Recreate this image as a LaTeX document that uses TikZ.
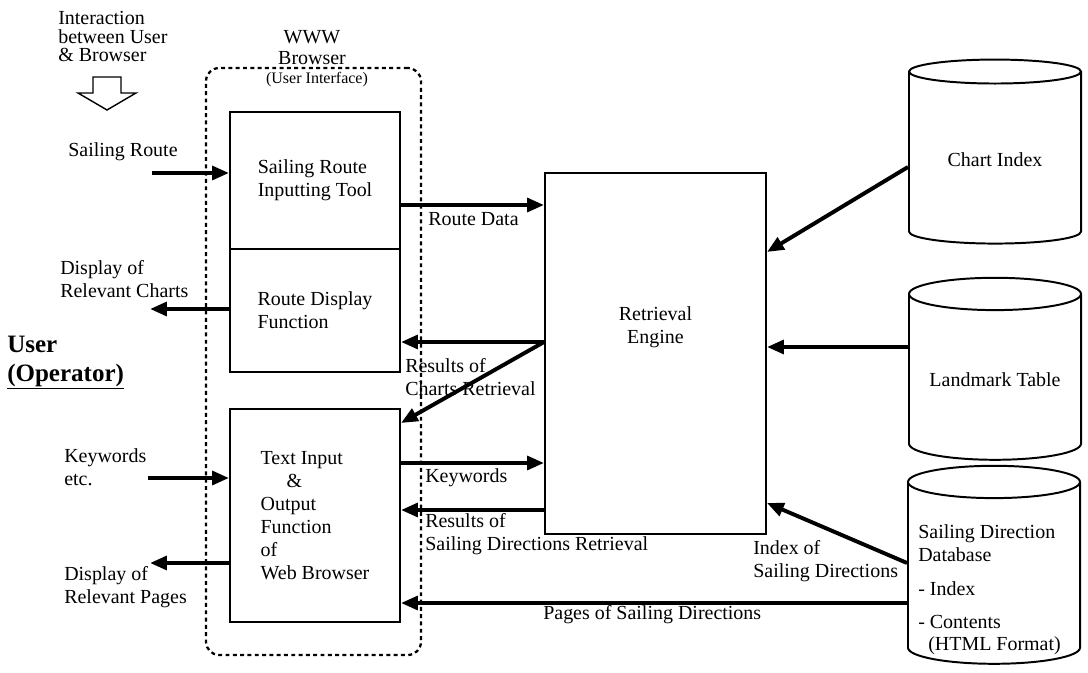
\documentclass[tikz,border=0pt]{standalone}
\usepackage{fontspec}
\setmainfont{Liberation Serif}
\usetikzlibrary{arrows.meta,shapes.geometric}
\begin{document}
\begin{tikzpicture}[
  font=\fontsize{14.2}{16.4}\selectfont,
  >={Triangle[length=0.42cm,width=0.34cm]},
  box/.style={draw, line width=1.4pt, minimum width=4.25cm, align=left},
  cyl/.style={draw, line width=1.4pt, cylinder, shape border rotate=90, aspect=0.23, minimum width=4.3cm},
  lbl/.style={inner sep=0pt, align=left},
  flow/.style={->, line width=2.8pt}
]
\useasboundingbox (0,0) rectangle (27.2,16.8);
% browser frame
\node[draw, dash pattern=on 2.8pt off 2.4pt, line width=1.6pt, rounded corners=0.33cm, minimum width=5.375cm, minimum height=14.675cm] (browser) at (7.8375,7.7625) {};
\node[lbl, align=center, font=\fontsize{14.2}{15}\selectfont] (wwwlbl) at (7.8,15.6125) {WWW\\Browser};
\node[lbl, font=\fontsize{11.4}{13}\selectfont] (uilbl) at (7.925,14.8) {(User Interface)};
% user side
\node[lbl, anchor=west, font=\fontsize{14.2}{13.2}\selectfont] (interlbl) at (1.45,15.8875) {Interaction\\between User\\\& Browser};
\draw[line width=1pt] (2.325,14.875) -- (3.025,14.875) -- (3.025,14.475) -- (3.4,14.475) -- (2.675,14.05) -- (1.95,14.475) -- (2.325,14.475) -- cycle;
\node[lbl] (routelbl) at (3.075,13.0) {Sailing Route};
\node[lbl, anchor=west] (chartslbl) at (1.5,9.8125) {Display of\\Relevant Charts};
\node[lbl, anchor=west, font=\bfseries\fontsize{17.8}{20.6}\selectfont] (userlbl) at (0.175,7.7375) {User\\\underline{(Operator)}};
\node[lbl, anchor=west] (keyslbl) at (1.6,5.125) {Keywords\\etc.};
\node[lbl, anchor=west] (pageslbl) at (1.6,2.1125) {Display of\\Relevant Pages};
\coordinate (routein) at (3.8,12.475);
\coordinate (chartsout) at (3.75,9.075);
\coordinate (keysin) at (3.7,4.85);
\coordinate (pagesout) at (3.75,2.725);
% browser boxes
\node[box, minimum height=3.425cm] (inputtool) at (7.875,12.2875) {Sailing Route\\Inputting Tool};
\node[box, minimum height=3.075cm] (routedisp) at (7.875,9.0375) {Route Display\\Function};
\node[box, minimum height=5.325cm] (textio) at (7.875,3.9125) {Text Input\\\hspace*{1.3em}\&\\Output\\Function\\of\\Web Browser};
% engine and databases
\node[draw, line width=1.4pt, minimum width=5.525cm, minimum height=9.025cm] (engine) at (16.3875,7.9625) {};
\node[lbl, align=center] (enginelbl) at (16.3875,8.6125) {Retrieval\\Engine};
\node[cyl, minimum height=4.6cm] (chartidx) at (24.875,12.8) {Chart Index};
\node[cyl, minimum height=4.55cm] (landmark) at (24.875,7.3) {Landmark Table};
\node[cyl, minimum height=4.95cm] (sddb) at (24.85,2.4) {\phantom{Landmark Table}};
\node[lbl, anchor=west] (sddlbl) at (22.95,2.0625) {Sailing Direction\\Database\\[8pt]- Index\\[7pt]- Contents\\[-1pt]\hspace*{0.5em}(HTML Format)};
% connector labels
\node[lbl, anchor=west] (rdatalbl) at (10.7,11.325) {Route Data};
\node[lbl, anchor=west] (reschartlbl) at (10.125,7.3625) {Results of\\Charts Retrieval};
\node[lbl, anchor=west] (keywordlbl) at (10.625,4.85) {Keywords};
\node[lbl, anchor=west] (ressdlbl) at (10.625,3.4375) {Results of\\Sailing Directions Retrieval};
\node[lbl, anchor=west] (pagessdlbl) at (13.575,1.425) {Pages of Sailing Directions};
\node[lbl, anchor=west] (indexlbl) at (18.825,2.7625) {Index of\\Sailing Directions};
% connectors
\draw[flow] (routein) -- (routein -| inputtool.west);
\draw[flow] (inputtool.east |- 0,11.675) -- (engine.west |- 0,11.675);
\draw[flow] (routedisp.west |- chartsout) -- (chartsout);
\draw[flow] (engine.west |- 0,8.25) -- (routedisp.east |- 0,8.25);
\draw[flow] (engine.west |- 0,8.25) -- (textio.east |- 0,6.225);
\draw[flow] (keysin) -- (keysin -| textio.west);
\draw[flow] (textio.east |- 0,5.225) -- (engine.west |- 0,5.225);
\draw[flow] (engine.west |- 0,4.05) -- (textio.east |- 0,4.05);
\draw[flow] (textio.west |- pagesout) -- (pagesout);
\draw[flow] (sddb.west |- 0,1.725) -- (textio.east |- 0,1.725);
\draw[flow] (sddb.west |- 0,2.725) -- (engine.east |- 0,4.225);
\draw[flow] (chartidx.west |- 0,12.625) -- (engine.east |- 0,10.5);
\draw[flow] (landmark.west |- 0,8.125) -- (engine.east |- 0,8.125);
\end{tikzpicture}
\end{document}
